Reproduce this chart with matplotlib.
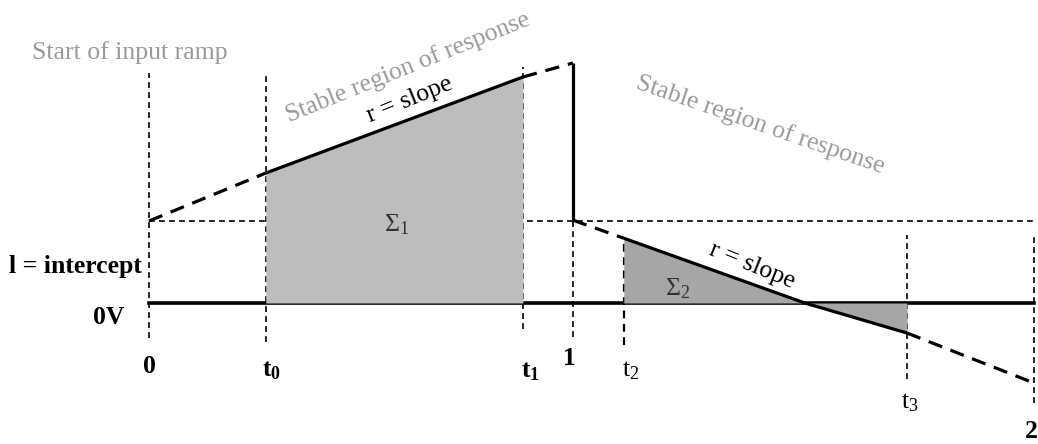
import matplotlib.pyplot as plt

plt.rcParams['font.family'] = ['Liberation Serif', 'DejaVu Serif']
plt.rcParams['mathtext.fontset'] = 'custom'
plt.rcParams['mathtext.rm'] = 'Liberation Serif'
plt.rcParams['mathtext.it'] = 'Liberation Serif:italic'
plt.rcParams['mathtext.bf'] = 'Liberation Serif:bold'

# key times (normalised: ramp starts at 0, ends at 2)
t_start, t0, t1, t_one = 0.0, 0.264, 0.845, 0.958
t2, t_cross, t3, t_two = 1.073, 1.482, 1.713, 2.0
intercept = 1.0

# response level at the key times
ramp1_t = [t_start, t0, t1, t_one]
ramp1_v = [1.0, 1.585, 2.756, 2.927]
ramp2_t = [t_one, t2, t_cross, t3, t_two]
ramp2_v = [1.01, 0.79, 0.0, -0.366, -0.976]

tick_pos = [t_start, t0, t1, t_one, t2, t3, t_two]
tick_labels = ['0', r'$\mathbf{t_0}$', r'$\mathbf{t_1}$', '1', r'$\mathrm{t_2}$', r'$\mathrm{t_3}$', '2']
tick_bold = [True, True, True, True, False, False, True]
tick_dy = [-0.78, -0.82, -0.84, -0.68, -0.82, -1.22, -1.57]
tick_dx = [0.002, 0.014, 0.016, -0.007, 0.016, 0.007, 0.008]

# vertical guides: (time, top, bottom)
guide_t = [t_start, t0, t1, t_one, t2, t3, t_two]
guide_top = [2.80, 2.80, 2.88, 1.01, 0.79, 0.83, 0.85]
guide_bot = [-0.43, -0.48, -0.32, -0.41, -0.51, -0.93, -1.22]

fig = plt.figure(figsize=(10.38, 4.44), dpi=100)
ax = fig.add_axes([0, 0, 1, 1])
ax.set_xlim(-149 / 442.5, 889 / 442.5)
ax.set_ylim(-141 / 82, 303 / 82)
ax.axis('off')

thin = dict(color='black', lw=1.2, dashes=(3.5, 2.5))
thick = dict(color='black', lw=2.3, solid_capstyle='butt')

# guides
for x, top, bot in zip(guide_t, guide_top, guide_bot):
    lw = 1.6 if x == t2 else 1.2
    ax.plot([x, x], [bot, top], color='black', lw=lw, dashes=(3.5, 2.5), zorder=1)
ax.plot([t_start, t0], [intercept, intercept], zorder=1, **thin)
ax.plot([t1 + 0.01, t_two], [intercept, intercept], zorder=1, **thin)

# 0V baseline
ax.plot([t_start, t_two], [0, 0], color='black', lw=2.6, zorder=2)

# integrated areas
ax.fill_between(ramp1_t[1:3], ramp1_v[1:3], 0, color='#bdbdbd', lw=0, zorder=3)
ax.fill_between(ramp2_t[1:4], ramp2_v[1:4], 0, color='#a6a6a6', lw=0, zorder=3)

# first ramp
ax.plot(ramp1_t[:2], ramp1_v[:2], dashes=(4.5, 2.8), zorder=4, **thick)
ax.plot(ramp1_t[1:3], ramp1_v[1:3], zorder=4, **thick)
ax.plot(ramp1_t[2:], ramp1_v[2:], dashes=(4.5, 2.8), zorder=4, **thick)
ax.plot([t_one, t_one], [ramp1_v[-1], ramp2_v[0]], zorder=4, **thick)

# second ramp
ax.plot(ramp2_t[:2], ramp2_v[:2], dashes=(4.5, 2.8), zorder=4, **thick)
ax.plot(ramp2_t[1:4], ramp2_v[1:4], zorder=4, **thick)
ax.plot(ramp2_t[3:], ramp2_v[3:], dashes=(4.5, 2.8), zorder=4, **thick)

# labels
grey = '#9a9a9a'
fs = 18.5
ax.text(-0.043, 3.06, 'Start of input ramp', color=grey, fontsize=fs,
        ha='center', va='center')
ax.text(0.585, 2.87, 'Stable region of response', color=grey, fontsize=fs,
        rotation=22, rotation_mode='anchor', ha='center', va='center')
ax.text(1.381, 2.171, 'Stable region of response', color=grey, fontsize=fs,
        rotation=-19, rotation_mode='anchor', ha='center', va='center')
ax.text(0.590, 2.476, 'r = slope', fontsize=fs, rotation=22,
        rotation_mode='anchor', ha='center', va='center')
ax.text(1.363, 0.451, 'r = slope', fontsize=fs, rotation=-22,
        rotation_mode='anchor', ha='center', va='center')
ax.text(0.560, 0.951, r'$\Sigma_1$', color='#333333', fontsize=fs,
        ha='center', va='center', zorder=5)
ax.text(1.195, 0.171, r'$\Sigma_2$', color='#333333', fontsize=fs,
        ha='center', va='center', zorder=5)
ax.text(-0.167, 0.451, 'l = intercept', fontsize=fs, fontweight='bold',
        ha='center', va='center')
ax.text(-0.090, -0.171, '0V', fontsize=fs, fontweight='bold',
        ha='center', va='center')

for x, lab, bold, dx, dy in zip(tick_pos, tick_labels, tick_bold, tick_dx, tick_dy):
    ha = 'right' if x == t_two else 'center'
    ax.text(x + dx, dy, lab, fontsize=fs, fontweight='bold' if bold else 'normal',
            ha=ha, va='center')

fig.savefig('out.png', dpi=100)
